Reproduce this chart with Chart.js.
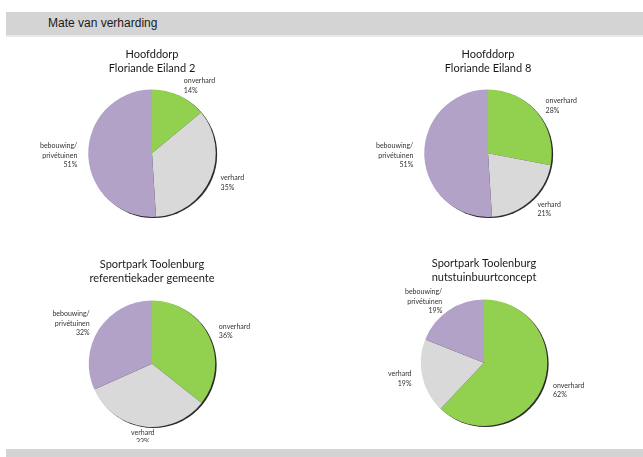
<!DOCTYPE html>
<html>
<head>
<meta charset="utf-8">
<script src="https://cdn.jsdelivr.net/npm/chart.js@4"></script>
<style>
  body { margin: 0; background: #fff; }
  #page { position: relative; width: 643px; height: 457px; overflow: hidden; background: #fff; }
  .band { position: absolute; left: 6px; right: 0; background: #d4d4d4; }
  #head { top: 12px; height: 23px; border-bottom: 2px solid #ebebeb; }
  #head span { position: absolute; left: 42px; top: 4px; font: 12px "Liberation Sans", Arial, sans-serif; color: #1a1a1a; }
  #foot { top: 449px; height: 8px; }
  .box { position: absolute; width: 300px; height: 190px; }
</style>
</head>
<body>
<div id="page">
  <div class="band" id="head"><span>Mate van verharding</span></div>
  <div class="band" id="foot"></div>
  <div class="box" style="left:2px; top:42px;"><canvas id="c1"></canvas></div>
  <div class="box" style="left:338px; top:42px;"><canvas id="c2"></canvas></div>
  <div class="box" style="left:2px; top:252px;"><canvas id="c3"></canvas></div>
  <div class="box" style="left:334px; top:251px;"><canvas id="c4"></canvas></div>
</div>
<script>
// categories, clockwise from 12 o'clock
const categories = ['onverhard', 'verhard', 'bebouwing/\nprivétuinen'];
const colors = ['#92d050', '#d9d9d9', '#b3a2c7'];

// percentages per location
const floriande2 = [14, 35, 51];
const floriande8 = [28, 21, 51];
const toolenburgGemeente = [36, 33, 32];
const toolenburgNutstuin = [62, 19, 19];

// edge shadow behind the pie
const shadowPlugin = {
    id: 'pieShadow',
    beforeDatasetsDraw(chart) {
        const arc = chart.getDatasetMeta(0).data[0];
        if (!arc) return;
        const ctx = chart.ctx;
        ctx.save();
        ctx.fillStyle = '#2b2b2b';
        ctx.beginPath();
        ctx.arc(arc.x + 1.4, arc.y + 1, arc.outerRadius, 0, Math.PI * 2);
        ctx.fill();
        ctx.restore();
    }
};

// outside labels: category + percent
const labelPlugin = {
    id: 'outLabels',
    afterDatasetsDraw(chart) {
        const ctx = chart.ctx;
        const meta = chart.getDatasetMeta(0);
        const vals = chart.data.datasets[0].data;
        ctx.save();
        ctx.font = '7px Lato, sans-serif';
        ctx.fillStyle = '#333';
        ctx.textBaseline = 'middle';
        meta.data.forEach(function (arc, i) {
            const mid = (arc.startAngle + arc.endAngle) / 2;
            const d = arc.outerRadius + 11;
            const x = arc.x + Math.cos(mid) * d;
            const y = arc.y + Math.sin(mid) * d;
            const c = Math.cos(mid);
            ctx.textAlign = c > 0.3 ? 'left' : (c < -0.3 ? 'right' : 'center');
            const lines = chart.data.labels[i].split('\n').concat([vals[i] + '%']);
            const lh = 9.5;
            const y0 = y - (lines.length - 1) * lh / 2;
            lines.forEach(function (t, k) {
                ctx.fillText(t, x, y0 + k * lh);
            });
        });
        ctx.restore();
    }
};

function makePie(id, title, values, padBottom) {
    new Chart(document.getElementById(id), {
        type: 'pie',
        data: {
            labels: categories,
            datasets: [{
                data: values,
                backgroundColor: colors,
                borderWidth: 0
            }]
        },
        options: {
            responsive: true,
            maintainAspectRatio: false,
            animation: false,
            layout: { padding: { bottom: 15 } },
            plugins: {
                legend: { display: false },
                tooltip: { enabled: false },
                title: {
                    display: true,
                    text: title,
                    color: '#1a1a1a',
                    font: { family: 'Lato', size: 11, weight: 'normal', lineHeight: 1.25 },
                    padding: { top: 6, bottom: padBottom }
                }
            }
        },
        plugins: [shadowPlugin, labelPlugin]
    });
}

makePie('c1', ['Hoofddorp', 'Floriande Eiland 2'], floriande2, 14);
makePie('c2', ['Hoofddorp', 'Floriande Eiland 8'], floriande8, 14);
makePie('c3', ['Sportpark Toolenburg', 'referentiekader gemeente'], toolenburgGemeente, 15);
makePie('c4', ['Sportpark Toolenburg', 'nutstuinbuurtconcept'], toolenburgNutstuin, 15);
</script>
</body>
</html>
